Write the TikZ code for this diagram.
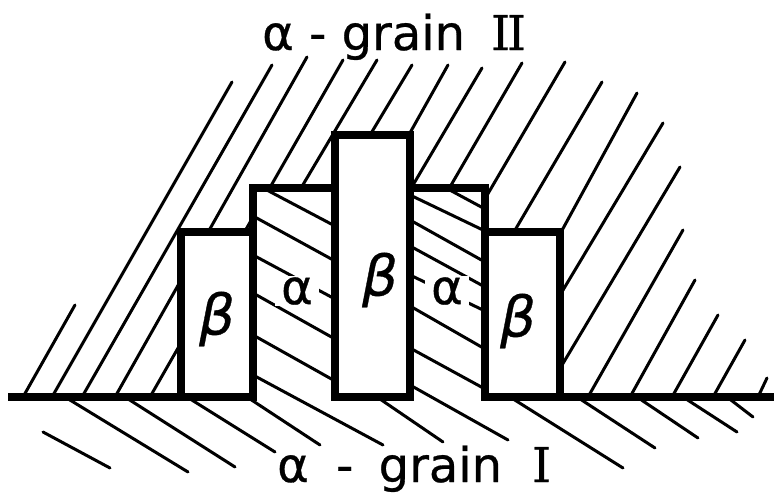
\documentclass[tikz,border=0pt]{standalone}
\usepackage{fontspec}
\setmainfont[FakeBold=0.6]{DejaVu Sans}
\newfontfamily\romfont[FakeBold=0.6]{DejaVu Serif}

\begin{document}
\begin{tikzpicture}[x=1pt, y=-1pt]
  \tikzstyle{wall}=[line width=7.5pt, line join=miter]
  \tikzstyle{hatch}=[line width=3pt, line cap=round]
  \tikzstyle{lbl}=[inner sep=0pt, anchor=base west, font=\fontsize{48}{52}\selectfont]
  \tikzstyle{alf}=[fill=white, inner xsep=6pt, inner ysep=1pt, font=\fontsize{48}{52}\selectfont]
  \tikzstyle{bet}=[inner sep=0pt, font=\fontsize{56}{60}\selectfont\itshape]

  \useasboundingbox (0,0) rectangle (774,498);

  % grain II, cut off by the beta plates and alpha strips
  \begin{scope}
    \clip (0,397) -- (181,397) -- (181,232) -- (253,232) -- (253,188) -- (335,188)
      -- (335,135) -- (410,135) -- (410,188) -- (485,188) -- (485,232) -- (560,232)
      -- (560,397) -- (774,397) -- (774,0) -- (0,0) -- cycle;
    \foreach \fx/\tx/\ty in {23/75/305, 52/232/82, 82/272/65, 115/307/57, 150/343/60,
        177/377/60, 213/412/65, 262/448/65, 288/482/68, 328/522/63, 369/565/62,
        417/602/82, 471/637/93, 499/663/123, 543/680/167, 588/683/230, 630/695/280,
        672/718/315, 713/745/340, 758/767/378}
      \draw[hatch] (\fx,397) -- (\tx,\ty);
  \end{scope}

  % alpha strips and grain I
  \foreach \ax/\ay/\bx/\by in {263/188/335/226, 253/216/335/261, 253/255/335/299,
      253/293/335/339, 253/335/335/381, 253/375/383/445,
      446/188/485/209, 410/195/485/231, 410/220/485/262, 410/246/485/287,
      410/275/485/311, 410/306/485/349, 410/348/485/389, 410/385/508/440,
      43/432/110/468, 65/397/188/472, 125/397/235/467, 187/397/275/452,
      247/397/320/445, 377/397/443/442, 510/397/623/468, 577/397/655/448,
      637/397/698/438, 683/397/737/432, 727/397/753/417}
    \draw[hatch] (\ax,\ay) -- (\bx,\by);

  \node[alf] (a1) at (297,291) {α};
  \node[alf] (a2) at (447,291) {α};

  \draw[wall] (8,397) -- (253,397) -- (253,188) -- (335,188);
  \draw[wall] (181,397) -- (181,232) -- (253,232);
  \draw[wall] (335,135) rectangle (410,397);
  \draw[wall] (410,188) -- (485,188) -- (485,397) -- (774,397);
  \draw[wall] (485,232) -- (560,232) -- (560,397);

  \node[bet] (b1) at (217,319) {β};
  \node[bet] (b2) at (380,280) {β};
  \node[bet] (b3) at (518,321) {β};

  \node[lbl] (g2) at (262,50) {α - grain\hspace{26pt}{\romfont I\kern-3pt I}};
  \node[lbl] (g1) at (277,482) {α\hspace{12pt} -\hspace{10pt} grain\hspace{30pt}{\romfont I}};
\end{tikzpicture}
\end{document}
